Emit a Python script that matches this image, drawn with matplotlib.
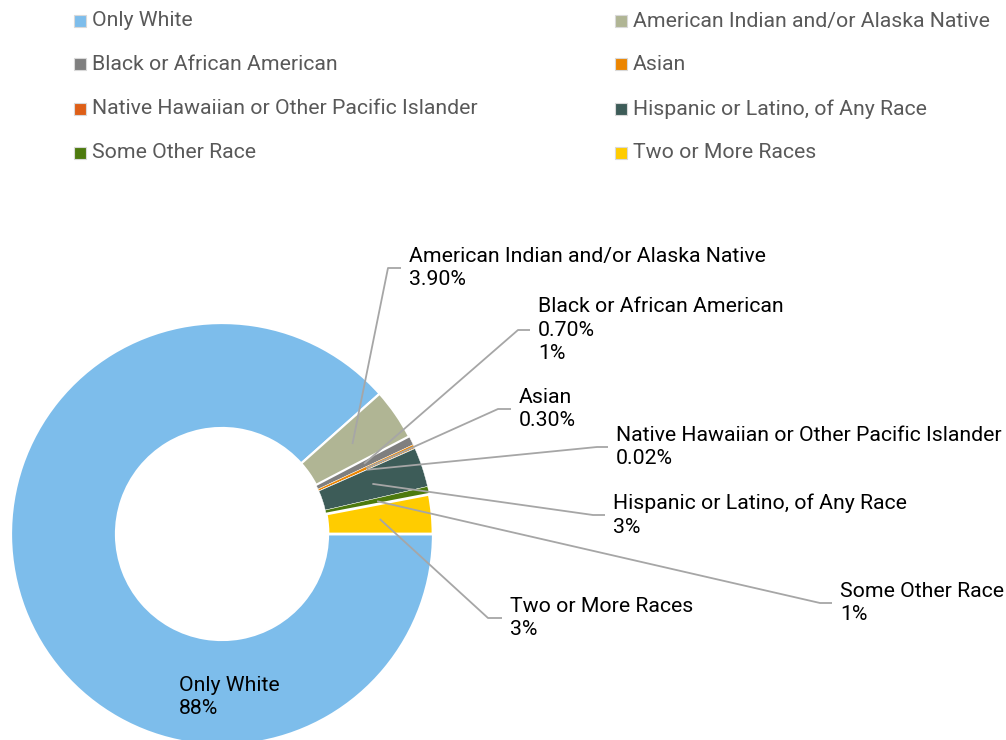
import matplotlib
matplotlib.use("Agg")
import matplotlib.pyplot as plt
import numpy as np
from matplotlib.patches import Rectangle

plt.rcParams['font.family'] = ['Roboto', 'DejaVu Sans']

# ---- data ----
categories = ["Only White", "American Indian and/or Alaska Native",
              "Black or African American", "Asian",
              "Native Hawaiian or Other Pacific Islander",
              "Hispanic or Latino, of Any Race", "Some Other Race",
              "Two or More Races"]
values = [88.0, 3.9, 0.7, 0.3, 0.02, 3.0, 0.6, 3.0]
value_labels = ["88%", "3.90%", "0.70%\n1%", "0.30%", "0.02%", "3%", "1%", "3%"]

colors = ["#7DBDEB", "#B0B594", "#7F7F7F", "#EC8500",
          "#DE5F17", "#3D5C58", "#4D7A0E", "#FFCC00"]

# ---- layout (pixel coordinates, y up) ----
W, H = 1006, 740
def py(y):
    return H - y

fig = plt.figure(figsize=(W / 100, H / 100), dpi=100)
ax = fig.add_axes([0, 0, 1, 1])
ax.set_xlim(0, W)
ax.set_ylim(0, H)
ax.set_aspect('equal')
ax.axis('off')

cx, cy = 222, py(534)
R_out, R_in = 211, 106

wedges, _ = ax.pie(values, radius=R_out, center=(cx, cy), startangle=0,
                   counterclock=False, colors=colors,
                   wedgeprops=dict(width=R_out - R_in, edgecolor='white',
                                   linewidth=0.4))
edge_w = [1.6, 1.6, 0.3, 0.3, 0.3, 0.3, 0.3, 2.0]
for w, lw in zip(wedges, edge_w):
    w.set_linewidth(lw)
    w.set_zorder(2 + lw)
ax.set_xlim(0, W)
ax.set_ylim(0, H)

# label elbows (where leader line turns horizontal) and text x
elbows = [None, (388, 268), (518, 330), (498, 409), (597, 447),
          (593, 515), (820, 603), (488, 618)]
text_x = [None, 409, 538, 519, 616, 613, 840, 510]

fs = 15.3
ls = 1.32
lc = "#A6A6A6"
for i, w in enumerate(wedges):
    lab = categories[i] + "\n" + value_labels[i]
    if elbows[i] is None:
        ax.text(179, py(697), lab, ha='left', va='center', fontsize=fs,
                color='black', linespacing=ls, zorder=10)
        continue
    ang = np.deg2rad((w.theta1 + w.theta2) / 2)
    rm = (R_out + R_in) / 2
    sx, sy = cx + rm * np.cos(ang), cy + rm * np.sin(ang)
    ex, ey = elbows[i][0], py(elbows[i][1])
    ax.plot([sx, ex, text_x[i] - 8], [sy, ey, ey], color=lc, lw=1.3,
            solid_capstyle='butt', zorder=8)
    ax.text(text_x[i], ey, lab, ha='left', va='center', fontsize=fs,
            color='black', linespacing=ls, zorder=10)

# legend (2 columns)
row_y = [21, 64, 109, 153]
col_sq = [74, 615]
for i, (name, c) in enumerate(zip(categories, colors)):
    r, col = divmod(i, 2)
    y = py(row_y[r])
    ax.add_patch(Rectangle((col_sq[col], y - 6), 12, 12, facecolor=c,
                           edgecolor='#D9D9D9', lw=0.8))
    ax.text(col_sq[col] + 18, y, name, ha='left', va='center',
            fontsize=fs, color='#595959')

fig.savefig("out.png", dpi=100)
